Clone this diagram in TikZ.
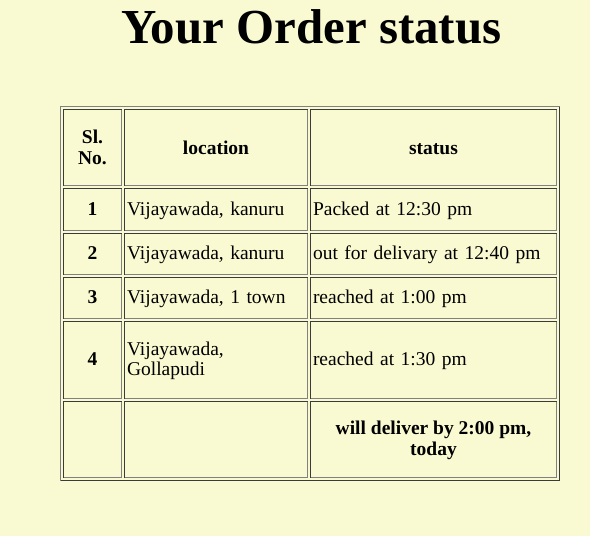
\documentclass[tikz,border=0pt]{standalone}
\usepackage{fontspec}
\setmainfont{Liberation Serif}
\definecolor{pagebg}{HTML}{FAFAD2}
\definecolor{bdlight}{HTML}{808080}
\definecolor{bddark}{HTML}{3A3A3A}
\newcommand\rstrut{\rule[-4.5pt]{0pt}{20pt}}
\newcommand\bstrut{\rule[-3.5pt]{0pt}{20pt}}
\tikzset{
  cellbox/.style n args={2}{draw=bdlight, line width=1pt, minimum width=#1pt,
    minimum height=#2pt, inner sep=0pt, outer sep=0pt},
  headtxt/.style={font=\bfseries\fontsize{19.5}{21.5}\selectfont, align=center},
  bodybold/.style={font=\bfseries\fontsize{19.5}{21.5}\selectfont, align=center},
  bodytxt/.style={font=\fontsize{19.5}{20.5}\selectfont, align=left,
    inner xsep=2.5pt, text width=#1pt},
  titletxt/.style={font=\bfseries\fontsize{48.9}{56}\selectfont, inner sep=0pt, anchor=base},
}
\begin{document}
\begin{tikzpicture}[x=1pt,y=-1pt]
\useasboundingbox (0,0) rectangle (590,536);
\fill[pagebg] (0,0) rectangle (590,536);
\node[titletxt] (title) at (311.2,43.5) {Your Order status};
% table frame (outset)
\node[cellbox={499}{374}] (tbl) at (310,293.5) {};
\draw[bddark, line width=1pt] (tbl.north east) -- (tbl.south east) -- (tbl.south west);
% header row
\node[cellbox={58}{76}, headtxt] (h1) at (92.5,147.5) {\bstrut Sl.\\\bstrut No.};
\node[cellbox={183}{76}, headtxt] (h2) at (216,147.5) {\bstrut location};
\node[cellbox={246}{76}, headtxt] (h3) at (433.5,147.5) {\bstrut status};
% row 1
\node[cellbox={58}{42}, bodybold] (a1) at (92.5,209.5) {\rstrut 1};
\node[cellbox={183}{42}, bodytxt=178] (a2) at (216,209.5) {\rstrut Vijayawada, kanuru};
\node[cellbox={246}{42}, bodytxt=241] (a3) at (433.5,209.5) {\rstrut Packed at 12:30 pm};
% row 2
\node[cellbox={58}{41}, bodybold] (b1) at (92.5,254) {\rstrut 2};
\node[cellbox={183}{41}, bodytxt=178] (b2) at (216,254) {\rstrut Vijayawada, kanuru};
\node[cellbox={246}{41}, bodytxt=241] (b3) at (433.5,254) {\rstrut out for delivary at 12:40 pm};
% row 3
\node[cellbox={58}{41}, bodybold] (c1) at (92.5,298) {\rstrut 3};
\node[cellbox={183}{41}, bodytxt=178] (c2) at (216,298) {\rstrut Vijayawada, 1 town};
\node[cellbox={246}{41}, bodytxt=241] (c3) at (433.5,298) {\rstrut reached at 1:00 pm};
% row 4
\node[cellbox={58}{77}, bodybold] (d1) at (92.5,360) {\rstrut 4};
\node[cellbox={183}{77}, bodytxt=178] (d2) at (216,360) {\rstrut Vijayawada,\\\rstrut Gollapudi};
\node[cellbox={246}{77}, bodytxt=241] (d3) at (433.5,360) {\rstrut reached at 1:30 pm};
% row 5
\node[cellbox={58}{76}] (e1) at (92.5,439.5) {};
\node[cellbox={183}{76}] (e2) at (216,439.5) {};
\node[cellbox={246}{76}, bodybold] (e3) at (433.5,439.5) {\rstrut will deliver by 2:00 pm,\\\rstrut today};
% inset shading of cells
\foreach \n in {h1,h2,h3,a1,a2,a3,b1,b2,b3,c1,c2,c3,d1,d2,d3,e1,e2,e3}
  \draw[bddark, line width=1pt] (\n.south west) -- (\n.north west) -- (\n.north east);
\end{tikzpicture}
\end{document}
